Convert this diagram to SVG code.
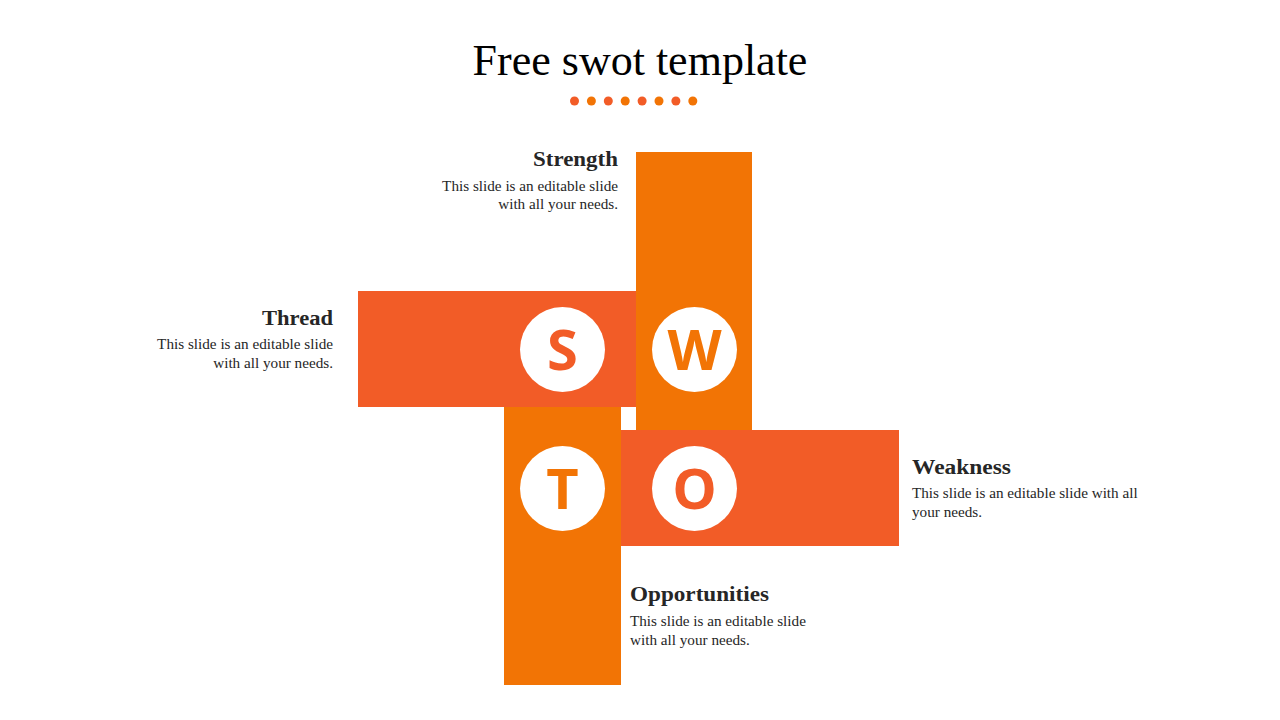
<svg xmlns="http://www.w3.org/2000/svg" width="1280" height="720" viewBox="0 0 1280 720">
<style>
.o{fill:#F27405}
.r{fill:#F25C27}
.title{font-family:"Liberation Serif",serif;font-size:44px;fill:#000}
.h{font-family:"Liberation Serif",serif;font-size:20px;font-weight:bold;fill:#262626}
.b{font-family:"Liberation Serif",serif;font-size:15.2px;fill:#262626}
.L{font-family:"Open Sans","Liberation Sans",sans-serif;font-size:56px;font-weight:bold;text-anchor:middle}
.c{fill:#fff}
</style>
<rect width="1280" height="720" fill="#fff"/>
<text class="title" x="640" y="75" text-anchor="middle">Free swot template</text>
<g id="dots">
<circle class="r" cx="574.5" cy="101" r="4.5"/>
<circle class="o" cx="591.4" cy="101" r="4.5"/>
<circle class="r" cx="608.3" cy="101" r="4.5"/>
<circle class="o" cx="625.2" cy="101" r="4.5"/>
<circle class="r" cx="642.1" cy="101" r="4.5"/>
<circle class="o" cx="659" cy="101" r="4.5"/>
<circle class="r" cx="675.9" cy="101" r="4.5"/>
<circle class="o" cx="692.8" cy="101" r="4.5"/>
</g>
<g id="bar-w"><rect class="o" x="636" y="152" width="116" height="278"/></g>
<g id="bar-s"><rect class="r" x="358" y="291" width="278" height="116"/></g>
<g id="bar-t"><rect class="o" x="504" y="407" width="117" height="278"/></g>
<g id="bar-o"><rect class="r" x="621" y="430" width="278" height="116"/></g>
<g id="node-s"><circle class="c" cx="562.5" cy="349.5" r="42.5"/><text class="L r" x="562.5" y="370">S</text></g>
<g id="node-w"><circle class="c" cx="694.5" cy="349.5" r="42.5"/><text class="L o" x="694.5" y="370">W</text></g>
<g id="node-t"><circle class="c" cx="562.5" cy="488.5" r="42.5"/><text class="L o" x="562.5" y="509">T</text></g>
<g id="node-o"><circle class="c" cx="694.5" cy="488.5" r="42.5"/><text class="L r" x="694.5" y="509">O</text></g>
<g id="label-strength" text-anchor="end">
<text class="h" x="618" y="166" textLength="85" lengthAdjust="spacingAndGlyphs">Strength</text>
<text class="b" x="618" y="191">This slide is an editable slide</text>
<text class="b" x="618" y="209">with all your needs.</text>
</g>
<g id="label-thread" text-anchor="end">
<text class="h" x="333" y="325" textLength="71" lengthAdjust="spacingAndGlyphs">Thread</text>
<text class="b" x="333" y="349">This slide is an editable slide</text>
<text class="b" x="333" y="368">with all your needs.</text>
</g>
<g id="label-weakness">
<text class="h" x="912" y="474" textLength="99" lengthAdjust="spacingAndGlyphs">Weakness</text>
<text class="b" x="912" y="498">This slide is an editable slide with all</text>
<text class="b" x="912" y="517">your needs.</text>
</g>
<g id="label-opportunities">
<text class="h" x="630" y="601" textLength="139" lengthAdjust="spacingAndGlyphs">Opportunities</text>
<text class="b" x="630" y="626">This slide is an editable slide</text>
<text class="b" x="630" y="645">with all your needs.</text>
</g>
<g id="connectors"/>
</svg>
